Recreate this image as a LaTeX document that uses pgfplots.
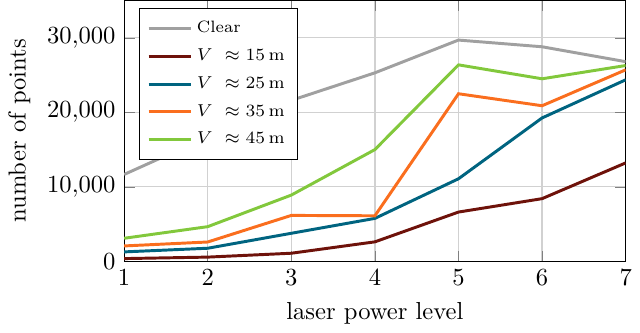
\documentclass[border=0pt]{standalone}
\usepackage{pgfplots}
\pgfplotsset{compat=1.18}
\definecolor{cClear}{RGB}{160,160,160}
\definecolor{c15}{RGB}{110,18,10}
\definecolor{c25}{RGB}{0,100,128}
\definecolor{c35}{RGB}{250,110,30}
\definecolor{c45}{RGB}{130,200,60}
\begin{document}
\begin{tikzpicture}
\begin{axis}[
  width=204pt, height=106pt, scale only axis,
  xmin=1, xmax=7, ymin=0, ymax=35000,
  xtick={1,2,3,4,5,6,7},
  ytick={0,10000,20000,30000},
  scaled y ticks=false,
  grid=major,
  grid style={line width=0.5pt, draw=black!18},
  xlabel={laser power level},
  ylabel={number of points},
  legend style={at={(0.03,0.97)}, anchor=north west, font=\fontsize{6.7}{8}\selectfont, legend cell align=left, draw=black, row sep=1pt, inner sep=3pt},
  every axis plot/.append style={line width=1.2pt},
]
\addplot[cClear] coordinates {(1,11650) (2,16700) (3,21600) (4,25300) (5,29700) (6,28800) (7,26800)};
\addlegendentry{Clear}
\addplot[c15] coordinates {(1,350) (2,550) (3,1070) (4,2600) (5,6600) (6,8400) (7,13200)};
\addlegendentry{$V\ \approx 15\,\mathrm{m}$}
\addplot[c25] coordinates {(1,1250) (2,1740) (3,3750) (4,5750) (5,11070) (6,19240) (7,24360)};
\addlegendentry{$V\ \approx 25\,\mathrm{m}$}
\addplot[c35] coordinates {(1,2050) (2,2580) (3,6150) (4,6100) (5,22490) (6,20880) (7,25700)};
\addlegendentry{$V\ \approx 35\,\mathrm{m}$}
\addplot[c45] coordinates {(1,3080) (2,4640) (3,8880) (4,14990) (5,26370) (6,24500) (7,26280)};
\addlegendentry{$V\ \approx 45\,\mathrm{m}$}
\end{axis}
\end{tikzpicture}
\end{document}
